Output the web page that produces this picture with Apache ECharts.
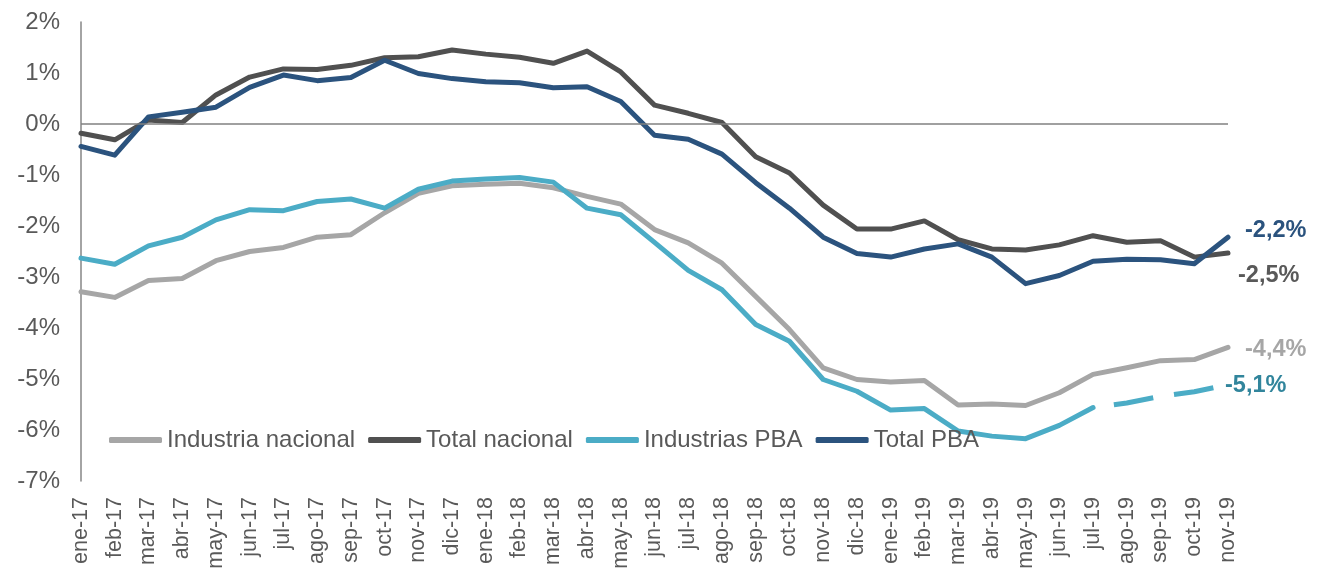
<!DOCTYPE html>
<html>
<head>
<meta charset="utf-8">
<script src="https://cdn.jsdelivr.net/npm/echarts@6/dist/echarts.min.js"></script>
<style>
html, body { margin: 0; padding: 0; background: #fff; }
#main { width: 1330px; height: 572px; }
</style>
</head>
<body>
<div id="main"></div>
<script>
// meses
var meses = ['ene-17','feb-17','mar-17','abr-17','may-17','jun-17','jul-17','ago-17','sep-17','oct-17','nov-17','dic-17',
	'ene-18','feb-18','mar-18','abr-18','may-18','jun-18','jul-18','ago-18','sep-18','oct-18','nov-18','dic-18',
	'ene-19','feb-19','mar-19','abr-19','may-19','jun-19','jul-19','ago-19','sep-19','oct-19','nov-19'];

// variacion interanual (%)
var industriaNacional = [-3.29,-3.40,-3.07,-3.03,-2.68,-2.50,-2.42,-2.22,-2.17,-1.74,-1.36,-1.21,-1.18,-1.16,-1.25,-1.42,-1.57,-2.07,-2.33,-2.73,-3.38,-4.03,-4.78,-5.01,-5.06,-5.03,-5.51,-5.49,-5.52,-5.27,-4.91,-4.78,-4.64,-4.62,-4.38];
var totalNacional = [-0.18,-0.31,0.08,0.03,0.57,0.92,1.08,1.07,1.15,1.30,1.32,1.45,1.37,1.31,1.19,1.43,1.02,0.37,0.21,0.03,-0.64,-0.96,-1.59,-2.06,-2.06,-1.90,-2.27,-2.45,-2.47,-2.37,-2.19,-2.32,-2.29,-2.61,-2.53];
var industriasPBA = [-2.63,-2.75,-2.39,-2.22,-1.88,-1.68,-1.70,-1.52,-1.47,-1.65,-1.28,-1.12,-1.08,-1.05,-1.14,-1.65,-1.78,-2.32,-2.87,-3.25,-3.93,-4.26,-5.01,-5.24,-5.61,-5.58,-6.02,-6.12,-6.17,-5.91,-5.56,-5.47,-5.34,-5.25,-5.11];
var totalPBA = [-0.44,-0.61,0.14,0.23,0.33,0.72,0.96,0.85,0.91,1.25,0.99,0.89,0.83,0.81,0.71,0.73,0.44,-0.22,-0.30,-0.59,-1.15,-1.65,-2.22,-2.54,-2.61,-2.45,-2.35,-2.61,-3.13,-2.97,-2.69,-2.65,-2.66,-2.74,-2.22];

// desde jul-19 la serie Industrias PBA va punteada
var corte = 30;
var pbaSolido = industriasPBA.map(function(v, i) { return i <= corte ? v : null; });
var pbaPunteado = industriasPBA.map(function(v, i) { return i >= corte ? v : null; });

function fmt(v) {
	return v.toFixed(1).replace('.', ',') + '%';
}

var FONT = '"Liberation Sans", Arial, sans-serif';
var TXT = '#595959';
var ANCHO = 5;

var chart = echarts.init(document.getElementById('main'));

function linea(name, data, color, extra) {
	var s = {
		name: name,
		type: 'line',
		data: data,
		symbol: 'none',
		showSymbol: false,
		connectNulls: false,
		lineStyle: { color: color, width: ANCHO, cap: 'round', join: 'round' },
		itemStyle: { color: color },
		emphasis: { disabled: true },
		animation: false
	};
	for (var k in extra) s[k] = extra[k];
	return s;
}

function etiqueta(color, off) {
	return {
		show: true,
		distance: 0,
		offset: off,
		fontFamily: FONT,
		fontSize: 23.5,
		fontWeight: 'bold',
		color: color,
		formatter: function(p) { return fmt(p.value); }
	};
}

var option = {
	textStyle: { fontFamily: FONT },
	grid: { left: 81, right: 102, top: 22, bottom: 91 },
	legend: {
		left: 104,
		top: 423,
		icon: 'roundRect',
		itemWidth: 53,
		itemHeight: 6,
		itemGap: 13,
		textStyle: { fontFamily: FONT, fontSize: 24, color: TXT },
		data: ['Industria nacional', 'Total nacional', 'Industrias PBA', 'Total PBA']
	},
	xAxis: {
		type: 'category',
		data: meses,
		boundaryGap: false,
		axisLine: { show: false },
		axisTick: { show: false },
		axisLabel: {
			interval: 0,
			rotate: 90,
			margin: 16,
			fontFamily: FONT,
			fontSize: 21.5,
			color: TXT
		}
	},
	yAxis: {
		type: 'value',
		min: -7,
		max: 2,
		interval: 1,
		splitLine: { show: false },
		axisLine: { show: true, lineStyle: { color: '#868686', width: 1.5 } },
		axisTick: { show: false },
		axisLabel: {
			margin: 21,
			fontFamily: FONT,
			fontSize: 24,
			color: TXT,
			formatter: '{value}%'
		}
	},
	series: [
		linea('Industria nacional', industriaNacional, '#A6A6A6', {
			endLabel: etiqueta('#A6A6A6', [17, 2])
		}),
		linea('Total nacional', totalNacional, '#505050', {
			endLabel: etiqueta('#595959', [10, 22]),
			markLine: {
				silent: true,
				symbol: 'none',
				label: { show: false },
				lineStyle: { color: '#808080', width: 1.5, type: 'solid' },
				data: [{ yAxis: 0 }]
			}
		}),
		linea('Industrias PBA', pbaSolido, '#4BACC6', {}),
		linea('Industrias PBA', pbaPunteado, '#4BACC6', {
			lineStyle: { color: '#4BACC6', width: ANCHO, type: [40, 21], dashOffset: 40, cap: 'butt' },
			endLabel: etiqueta('#31859C', [-3, 1])
		}),
		linea('Total PBA', totalPBA, '#2B537E', {
			endLabel: etiqueta('#2B537E', [17, -7])
		})
	]
};

chart.setOption(option);
</script>
</body>
</html>
